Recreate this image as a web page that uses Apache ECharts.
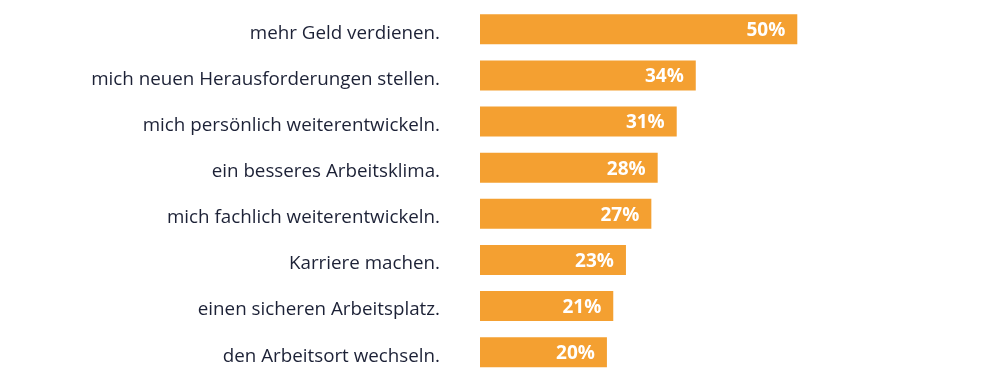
<!DOCTYPE html>
<html>
<head>
<meta charset="utf-8">
<script src="https://cdn.jsdelivr.net/npm/echarts@6/dist/echarts.min.js"></script>
<style>html,body{margin:0;padding:0;background:#fff;}#c{width:1000px;height:390px;}</style>
</head>
<body>
<div id="c"></div>
<script>
const categories = [
  "mehr Geld verdienen.",
  "mich neuen Herausforderungen stellen.",
  "mich persönlich weiterentwickeln.",
  "ein besseres Arbeitsklima.",
  "mich fachlich weiterentwickeln.",
  "Karriere machen.",
  "einen sicheren Arbeitsplatz.",
  "den Arbeitsort wechseln."
];
const values = [50, 34, 31, 28, 27, 23, 21, 20];

const chart = echarts.init(document.getElementById('c'), null, {renderer: 'canvas'});
chart.setOption({
  animation: false,
  grid: {left: 480, top: 6.2, width: 317.3, height: 369.1, containLabel: false},
  xAxis: {type: 'value', min: 0, max: 50, show: false},
  yAxis: {
    type: 'category', inverse: true, data: categories,
    axisLine: {show: false}, axisTick: {show: false}, splitLine: {show: false},
    axisLabel: {margin: 40, fontFamily: 'Open Sans', fontSize: 18.8, color: '#1c2136',
      verticalAlign: 'top', lineHeight: 8}
  },
  series: [{
    type: 'bar', data: values, barCategoryGap: '35%',
    itemStyle: {color: '#F4A031'},
    label: {show: true, position: 'insideRight', distance: 12, offset: [0, 1.5], formatter: '{c}%',
      fontFamily: 'Open Sans', fontWeight: 'bold', fontSize: 19, color: '#fff'}
  }]
});
</script>
</body>
</html>
